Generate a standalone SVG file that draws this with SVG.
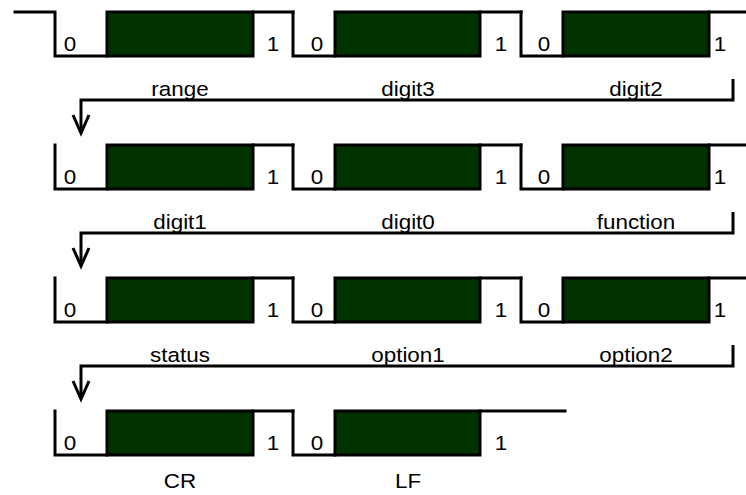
<svg xmlns="http://www.w3.org/2000/svg" width="746" height="495" viewBox="0 0 746 495">
<style>
.w{fill:none;stroke:#000;stroke-width:3;stroke-linejoin:miter;stroke-linecap:square}
.b{fill:#003300;stroke:#000;stroke-width:3}
.c{fill:none;stroke:#000;stroke-width:3}
.t{font-family:"Liberation Sans",Arial,sans-serif;font-size:19.5px;fill:#000;text-anchor:middle}
</style>
<defs>
<marker id="arr" viewBox="-20 -10 22 20" refX="0" refY="0" markerWidth="22" markerHeight="20" markerUnits="userSpaceOnUse" orient="auto" overflow="visible">
<path d="M-18,-8 L0,0 L-18,8" fill="none" stroke="#000" stroke-width="3"/>
</marker>
</defs>
<rect width="746" height="495" fill="#fff"/>

<!-- Row 1 -->
<g id="range">
<path class="w" d="M15,12 H55 V56 H107 M253,12 H293"/>
<rect class="b" x="107" y="12" width="146" height="44"/>
<text class="t" transform="translate(70,51) scale(1.15,1)">0</text>
<text class="t" transform="translate(273,51) scale(1.15,1)">1</text>
<text class="t" transform="translate(180,96) scale(1.15,1)">range</text>
</g>
<g id="digit3">
<path class="w" d="M293,12 V56 H335 M480,12 H521"/>
<rect class="b" x="335" y="12" width="145" height="44"/>
<text class="t" transform="translate(317,51) scale(1.15,1)">0</text>
<text class="t" transform="translate(501,51) scale(1.15,1)">1</text>
<text class="t" transform="translate(408,96) scale(1.15,1)">digit3</text>
</g>
<g id="digit2">
<path class="w" d="M521,12 V56 H563 M709,12 H746"/>
<rect class="b" x="563" y="12" width="146" height="44"/>
<text class="t" transform="translate(544,51) scale(1.15,1)">0</text>
<text class="t" transform="translate(720,51) scale(1.15,1)">1</text>
<text class="t" transform="translate(636,96) scale(1.15,1)">digit2</text>
</g>

<!-- Row 2 -->
<g id="digit1">
<path class="w" d="M55,145 V189 H107 M253,145 H293"/>
<rect class="b" x="107" y="145" width="146" height="44"/>
<text class="t" transform="translate(70,184) scale(1.15,1)">0</text>
<text class="t" transform="translate(273,184) scale(1.15,1)">1</text>
<text class="t" transform="translate(180,229) scale(1.15,1)">digit1</text>
</g>
<g id="digit0">
<path class="w" d="M293,145 V189 H335 M480,145 H521"/>
<rect class="b" x="335" y="145" width="145" height="44"/>
<text class="t" transform="translate(317,184) scale(1.15,1)">0</text>
<text class="t" transform="translate(501,184) scale(1.15,1)">1</text>
<text class="t" transform="translate(408,229) scale(1.15,1)">digit0</text>
</g>
<g id="function">
<path class="w" d="M521,145 V189 H563 M709,145 H746"/>
<rect class="b" x="563" y="145" width="146" height="44"/>
<text class="t" transform="translate(544,184) scale(1.15,1)">0</text>
<text class="t" transform="translate(720,184) scale(1.15,1)">1</text>
<text class="t" transform="translate(636,229) scale(1.15,1)">function</text>
</g>

<!-- Row 3 -->
<g id="status">
<path class="w" d="M55,278 V322 H107 M253,278 H293"/>
<rect class="b" x="107" y="278" width="146" height="44"/>
<text class="t" transform="translate(70,317) scale(1.15,1)">0</text>
<text class="t" transform="translate(273,317) scale(1.15,1)">1</text>
<text class="t" transform="translate(180,362) scale(1.15,1)">status</text>
</g>
<g id="option1">
<path class="w" d="M293,278 V322 H335 M480,278 H521"/>
<rect class="b" x="335" y="278" width="145" height="44"/>
<text class="t" transform="translate(317,317) scale(1.15,1)">0</text>
<text class="t" transform="translate(501,317) scale(1.15,1)">1</text>
<text class="t" transform="translate(408,362) scale(1.15,1)">option1</text>
</g>
<g id="option2">
<path class="w" d="M521,278 V322 H563 M709,278 H746"/>
<rect class="b" x="563" y="278" width="146" height="44"/>
<text class="t" transform="translate(544,317) scale(1.15,1)">0</text>
<text class="t" transform="translate(720,317) scale(1.15,1)">1</text>
<text class="t" transform="translate(636,362) scale(1.15,1)">option2</text>
</g>

<!-- Row 4 -->
<g id="CR">
<path class="w" d="M55,411 V455 H107 M253,411 H293"/>
<rect class="b" x="107" y="411" width="146" height="44"/>
<text class="t" transform="translate(70,450) scale(1.15,1)">0</text>
<text class="t" transform="translate(273,450) scale(1.15,1)">1</text>
<text class="t" transform="translate(180,488) scale(1.15,1)">CR</text>
</g>
<g id="LF">
<path class="w" d="M293,411 V455 H335 M480,411 H565"/>
<rect class="b" x="335" y="411" width="145" height="44"/>
<text class="t" transform="translate(317,450) scale(1.15,1)">0</text>
<text class="t" transform="translate(501,450) scale(1.15,1)">1</text>
<text class="t" transform="translate(408,488) scale(1.15,1)">LF</text>
</g>

<!-- Connectors -->
<g id="connectors">
<path class="c" d="M733,79 V100 H81 V133" marker-end="url(#arr)"/>
<path class="c" d="M733,212 V233 H81 V266" marker-end="url(#arr)"/>
<path class="c" d="M733,345 V366 H81 V399" marker-end="url(#arr)"/>
</g>
</svg>
